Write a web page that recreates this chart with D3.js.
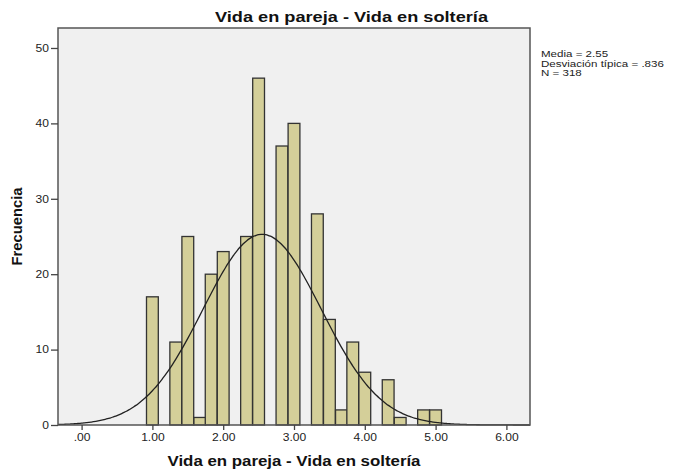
<!DOCTYPE html>
<html>
  <head>
    <meta charset="utf-8">
    <title>Vida en pareja - Vida en soltería</title>
    <script src="https://d3js.org/d3.v7.min.js"></script>
    <style>
      body { margin: 0; background: white; }
      svg { display: block; font-family: "Liberation Sans", Arial, sans-serif; }
      .tick text { font-size: 10.5px; fill: #222; }
      .tick line { stroke: #444; }
      .domain { display: none; }
      .bar { fill: #d4cf99; stroke: #333; stroke-width: 1.3; }
      .curve { fill: none; stroke: #222; stroke-width: 1.3; }
      .stats { font-size: 8.3px; fill: #222; }
      .title { font-weight: bold; fill: #111; }
    </style>
  </head>
  <body>
    <svg id="chart" width="673" height="476"></svg>
    <script>
      // data (bin centres, width 1/6)
      binCentres = [1.00, 1.17, 1.33, 1.50, 1.67, 1.83, 2.00, 2.17, 2.33, 2.50, 2.67, 2.83, 3.00,
                    3.17, 3.33, 3.50, 3.67, 3.83, 4.00, 4.17, 4.33, 4.50, 4.67, 4.83, 5.00];
      counts = [17, 0, 11, 25, 1, 20, 23, 0, 25, 46, 0, 37, 40,
                0, 28, 14, 2, 11, 7, 0, 6, 1, 0, 2, 2];
      binWidth = 1 / 6;
      xTicks = [0, 1, 2, 3, 4, 5, 6];
      yTicks = [0, 10, 20, 30, 40, 50];
      media = 2.55;
      sd = 0.836;
      n = 318;
      statLines = ["Media = 2.55", "Desviación típica = .836", "N = 318"];

      // the source picture is a bit stretched sideways, so widen text to match
      stretch = 1.15;
      function widen(sel, factor) {
        sel.each(function() {
          let w = this.getComputedTextLength();
          d3.select(this)
            .attr("textLength", w * factor)
            .attr("lengthAdjust", "spacingAndGlyphs");
        });
      }
      function fitTo(sel, target) {
        sel.attr("textLength", target).attr("lengthAdjust", "spacingAndGlyphs");
      }

      // page elements
      svg = d3.select("#chart");
      margin = { top: 28, right: 143, bottom: 51, left: 58 };
      width = 673 - margin.left - margin.right;
      height = 476 - margin.top - margin.bottom;

      x = d3.scaleLinear().domain([-1 / 3, 19 / 3]).range([0, width]);
      y = d3.scaleLinear().domain([0, 52.65]).range([height, 0]);

      g = svg.append("g")
        .attr("transform", "translate(" + margin.left + "," + margin.top + ")");

      g.append("rect")
        .attr("width", width)
        .attr("height", height)
        .attr("fill", "#f0f0f0");

      // bars
      bins = binCentres.map(function(c, i) { return { c: c, n: counts[i] }; })
        .filter(function(d) { return d.n > 0; });
      g.selectAll(".bar")
          .data(bins)
        .enter().append("rect")
          .classed("bar", true)
          .attr("x", function(d) { return x(d.c - binWidth / 2); })
          .attr("width", function(d) { return x(d.c + binWidth / 2) - x(d.c - binWidth / 2); })
          .attr("y", function(d) { return y(d.n); })
          .attr("height", function(d) { return height - y(d.n); });

      // normal curve from the stated mean / sd / N
      curvePts = d3.range(0, 201).map(function(i) {
        let v = x.domain()[0] + (x.domain()[1] - x.domain()[0]) * i / 200;
        let dens = Math.exp(-0.5 * Math.pow((v - media) / sd, 2)) / (sd * Math.sqrt(2 * Math.PI));
        return [v, n * binWidth * dens];
      });
      g.append("path")
        .classed("curve", true)
        .datum(curvePts)
        .attr("d", d3.line()
          .x(function(d) { return x(d[0]); })
          .y(function(d) { return y(d[1]); })
          .curve(d3.curveBasis));

      // frame
      g.append("rect")
        .attr("width", width)
        .attr("height", height)
        .attr("fill", "none")
        .attr("stroke", "#555")
        .attr("stroke-width", 1.5);

      // axes
      xAxis = g.append("g")
        .attr("transform", "translate(0," + height + ")")
        .call(d3.axisBottom(x)
          .tickValues(xTicks)
          .tickFormat(function(d) { return d3.format(".2f")(d).replace(/^0/, ""); })
          .tickSize(5)
          .tickPadding(4));
      yAxis = g.append("g")
        .call(d3.axisLeft(y)
          .tickValues(yTicks)
          .tickSize(7)
          .tickPadding(2));
      g.selectAll(".tick line").attr("stroke-width", 1.3);
      widen(g.selectAll(".tick text"), stretch);

      // titles
      svg.append("text")
        .classed("title", true)
        .attr("x", 215)
        .attr("y", 22)
        .style("font-size", "15px")
        .text("Vida en pareja - Vida en soltería")
        .call(fitTo, 273);
      svg.append("text")
        .classed("title", true)
        .attr("x", margin.left + width / 2)
        .attr("y", 466)
        .attr("text-anchor", "middle")
        .style("font-size", "14px")
        .text("Vida en pareja - Vida en soltería")
        .call(fitTo, 253);
      svg.append("text")
        .classed("title", true)
        .attr("transform", "translate(22," + (margin.top + height / 2) + ") rotate(-90)")
        .attr("text-anchor", "middle")
        .style("font-size", "14.5px")
        .text("Frecuencia")
        .call(fitTo, 78);

      // stats box, stretched sideways with a scale
      statsGroup = svg.append("g");
      stats = statsGroup
        .selectAll("text")
          .data(statLines)
        .enter().append("text")
          .classed("stats", true)
          .attr("x", 0)
          .attr("y", function(d, i) { return 57 + i * 9.6; })
          .text(function(d) { return d; });
      statsWidth = d3.max(stats.nodes(), function(node) { return node.getComputedTextLength(); });
      statsGroup.attr("transform", "translate(541,0) scale(" + (123 / statsWidth) + ",1)");
    </script>
  </body>
</html>
